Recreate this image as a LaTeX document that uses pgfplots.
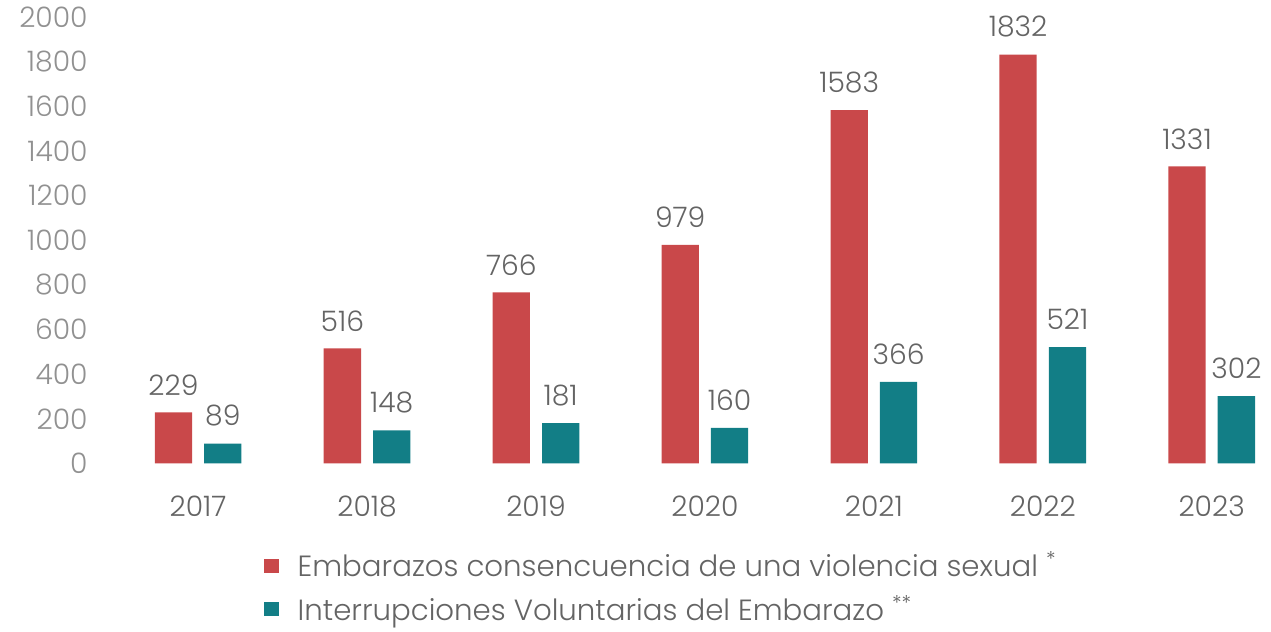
\documentclass[border=0pt]{standalone}
\usepackage{pgfplots}
\pgfplotsset{compat=1.18}
\usepackage{fontspec}
\setmainfont{Poppins}[UprightFont={* Light}]
\definecolor{barred}{RGB}{201,72,74}
\definecolor{barteal}{RGB}{18,126,134}
\definecolor{txtgray}{RGB}{100,100,100}
\definecolor{tickgray}{RGB}{145,145,145}

\begin{document}
\begin{tikzpicture}
\begin{axis}[
    scale only axis,
    width=585pt, height=221.5pt,
    ybar, bar width=18.5pt,
    xmin=-0.63, xmax=6.35,
    ymin=0, ymax=2000,
    clip=false,
    xtick={0,...,6},
    xticklabels={2017,2018,2019,2020,2021,2022,2023},
    ytick={0,200,...,2000},
    major tick length=0pt,
    axis line style={draw=none},
    /pgf/number format/1000 sep={},
    /pgf/number format/assume math mode=true,
    xticklabel style={font=\fontsize{14}{16}\selectfont, text=txtgray, yshift=-12.5pt},
    yticklabel style={font=\fontsize{14}{16}\selectfont, text=tickgray, xshift=1.5pt},
    nodes near coords,
    every node near coord/.append style={font=\fontsize{14}{16}\selectfont, text=txtgray, yshift=5pt},
    legend style={draw=none, fill=none, at={(0.141,-0.178)}, anchor=north west,
        font=\fontsize{14.5}{16}\selectfont, text=txtgray,
        row sep=3.5pt, cells={anchor=west}},
    legend image code/.code={\fill[#1] (0pt,-3.5pt) rectangle (7pt,3.5pt); \path (14.5pt,0pt);},
]
\addplot[fill=barred, draw=none, bar shift=-12.25pt] coordinates {
    (0,229) (1,516) (2,766) (3,979) (4,1583) (5,1832) (6,1331)};
\addlegendentry{Embarazos consencuencia de una violencia sexual \textsuperscript{*}}
\addplot[fill=barteal, draw=none, bar shift=12.25pt] coordinates {
    (0,89) (1,148) (2,181) (3,160) (4,366) (5,521) (6,302)};
\addlegendentry{Interrupciones Voluntarias del Embarazo \textsuperscript{**}}
\path (rel axis cs:0,0) ++(-45.5pt,0pt);
\end{axis}
\end{tikzpicture}
\end{document}
